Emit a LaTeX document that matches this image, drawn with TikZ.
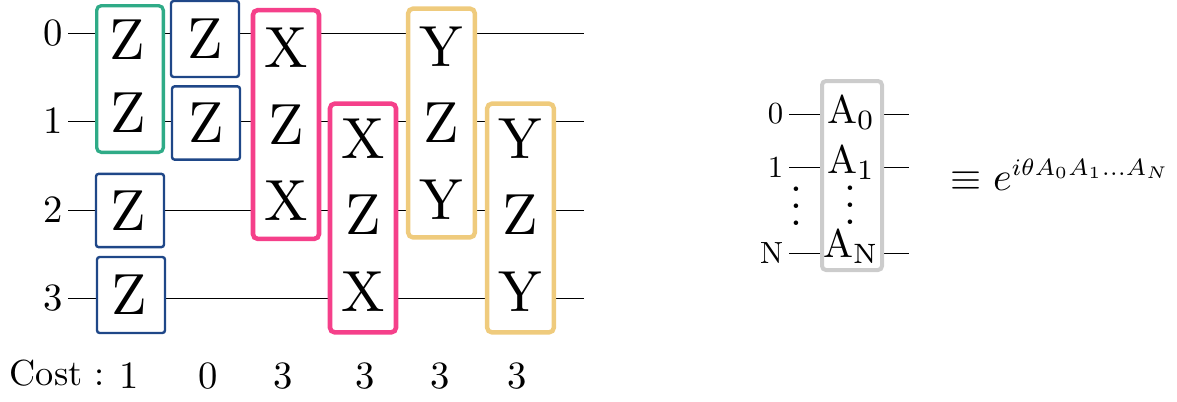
\documentclass[tikz,border=0pt]{standalone}
\usepackage{amsmath}
\usetikzlibrary{positioning}
\definecolor{gategreen}{HTML}{2FAB87}
\definecolor{gateblue}{HTML}{1F4788}
\definecolor{gatepink}{HTML}{F5408A}
\definecolor{gateyellow}{HTML}{EFCB7D}
\definecolor{gategray}{HTML}{CCCCCC}
\newcommand{\dotcol}{\vbox{\baselineskip4pt\lineskiplimit0pt\hbox{.}\hbox{.}\hbox{.}}}
\tikzset{
	wire/.style={line width=0.75pt},
	qlabel/.style={anchor=east,inner xsep=1.17pt,inner ysep=0pt,scale=2.9},
	slabel/.style={anchor=east,inner xsep=1.7pt,inner ysep=0pt,scale=2.3},
	costlabel/.style={anchor=base,inner sep=0pt,scale=2.9},
	gate/.style={draw,fill=white,rounded corners=3.5pt,align=center,inner sep=0pt,scale=4.35,font=\fontsize{10}{13.2}\selectfont},
	bluegate/.style={gate,draw=gateblue,line width=1.8pt,rounded corners=2pt,minimum width=51pt/4.35,minimum height=55pt/4.35},
	greengate/.style={gate,draw=gategreen,line width=2.5pt,minimum width=50pt/4.35,minimum height=110pt/4.35},
	pinkgate/.style={gate,draw=gatepink,line width=3.4pt,minimum width=49.5pt/4.35,minimum height=171.5pt/4.35},
	yellowgate/.style={gate,draw=gateyellow,line width=3.3pt,minimum width=50pt/4.35,minimum height=171.5pt/4.35},
	grayletter/.style={anchor=base,inner sep=0pt,scale=3},
	dotcolumn/.style={inner sep=0pt,scale=3.2}
}

\begin{document}
\begin{tikzpicture}[x=0.75pt,y=-0.75pt]
	\useasboundingbox (0,0) rectangle (1177,401);
	\node[qlabel] (q0) at (68,33) {0};
	\node[qlabel] (q1) at (68,121) {1};
	\node[qlabel] (q2) at (68,210) {2};
	\node[qlabel] (q3) at (68,298) {3};
	\coordinate (e0) at (584,33);
	\coordinate (e1) at (584,121);
	\coordinate (e2) at (584,210);
	\coordinate (e3) at (584,298);
	\foreach \i in {0,...,3}
		\draw[wire] (q\i.east) -- (e\i);
	\node[greengate,text depth=0.86pt] (zz) at (130,79) {Z\kern0.8pt\\[-0.6pt]Z\kern0.6pt};
	\node[bluegate,minimum height=57pt/4.35] (z0) at (205,39) {Z};
	\node[bluegate] (z1) at (206,123) {Z};
	\node[bluegate] (z2) at (130,210.5) {Z\kern0.6pt};
	\node[bluegate,minimum height=57pt/4.35] (z3) at (131,295) {Z\kern0.6pt};
	\node[pinkgate] (xzxa) at (286,124.5) {X\\Z\\X};
	\node[pinkgate,text depth=1pt] (xzxb) at (363,218) {X\\Z\\X};
	\node[yellowgate] (yzya) at (441.5,123) {Y\\Z\\Y};
	\node[yellowgate,text depth=1pt] (yzyb) at (520.5,218) {Y\\Z\\Y};
	\node[costlabel,anchor=base west,scale=2.72/2.9] (cost) at (9,385) {Cost :};
	\node[costlabel] (c1) at (129,388) {1};
	\node[costlabel] (c2) at (208,388) {0};
	\node[costlabel] (c3) at (283,388) {3};
	\node[costlabel] (c4) at (365,388) {3};
	\node[costlabel] (c5) at (440,388) {3};
	\node[costlabel] (c6) at (517,388) {3};
	\node[slabel] (r0) at (789,114) {0};
	\node[slabel] (r1) at (789,167) {1};
	\node[slabel] (rn) at (789,253) {N};
	\coordinate (s0) at (909,114);
	\coordinate (s1) at (909,167);
	\coordinate (sn) at (909,253);
	\draw[wire] (r0.east) -- (s0);
	\draw[wire] (r1.east) -- (s1);
	\draw[wire] (rn.east) -- (sn);
	\node[draw=gategray,fill=white,line width=3pt,rounded corners=3pt,minimum width=45pt,minimum height=141.75pt,inner sep=0pt] (abox) at (852,175.5) {};
	\node[grayletter] (a0) at (851,123) {A$_0$};
	\node[grayletter] (a1) at (851,173) {A$_1$};
	\node[grayletter] (an) at (851,257) {A$_\mathrm{N}$};
	\node[dotcolumn] (dotsa) at (850,205.5) {\dotcol};
	\node[dotcolumn] (dotsb) at (796,206.5) {\dotcol};
	\node[anchor=base west,inner sep=0pt,scale=3] (expo) at (950,190) {$\equiv e^{\scalebox{0.845}{$\scriptstyle i\theta A_0 A_1 ... A_N$}}$};
\end{tikzpicture}
\end{document}
